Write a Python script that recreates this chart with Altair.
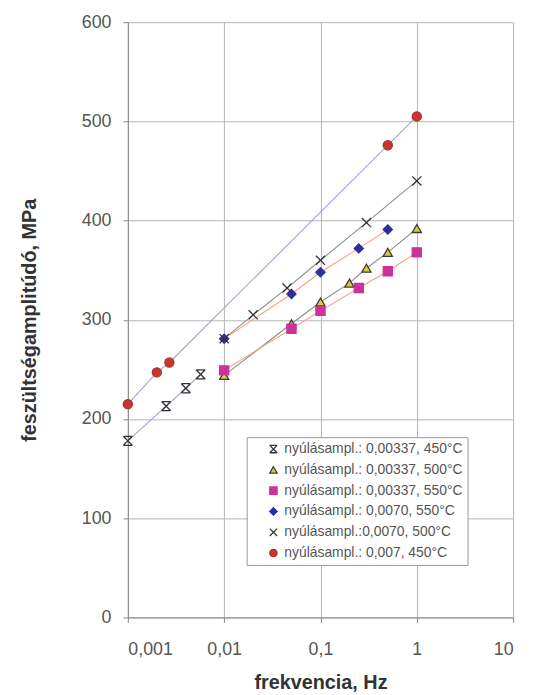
import altair as alt
import pandas as pd

series = [
    "nyúlásampl.: 0,00337, 450°C",
    "nyúlásampl.: 0,00337, 500°C",
    "nyúlásampl.: 0,00337, 550°C",
    "nyúlásampl.: 0,0070, 550°C",
    "nyúlásampl.:0,0070, 500°C",
    "nyúlásampl.: 0,007, 450°C",
]
freq = [
    [0.001, 0.0025, 0.004, 0.0057],
    [0.01, 0.05, 0.1, 0.2, 0.3, 0.5, 1],
    [0.01, 0.05, 0.1, 0.25, 0.5, 1],
    [0.01, 0.05, 0.1, 0.25, 0.5],
    [0.01, 0.02, 0.045, 0.1, 0.3, 1],
    [0.001, 0.002, 0.0027, 0.5, 1],
]
stress = [
    [178, 213, 231, 245],
    [244, 296, 318, 337, 352, 368, 392],
    [249, 291, 309, 332, 349, 368],
    [281, 326, 348, 372, 391],
    [281, 305, 332, 360, 398, 440],
    [215, 247, 257, 476, 505],
]
shapes = [
    "M-1,-1L1,1M-1,1L1,-1M-1,-1L1,-1M-1,1L1,1",
    "triangle-up",
    "square",
    "diamond",
    "M-1,-1L1,1M-1,1L1,-1",
    "circle",
]
fills = ["transparent", "#d6cf3c", "#cc3399", "#2e2ea0", "transparent", "#c33a2c"]
strokes = ["#333333", "#3a3a3a", "#cc3399", "#2e2ea0", "#333333", "#b0302a"]
line_colors = ["#a4a4d4", "#8e8e8e", "#f2a385", "#f2a385", "#8e8e8e", "#a4a4d4"]

x_ticks = [0.001, 0.01, 0.1, 1, 10]
y_ticks = [0, 100, 200, 300, 400, 500, 600]

rows = []
for i, name in enumerate(series):
    for f, s in zip(freq[i], stress[i]):
        rows.append({"f": f, "s": s, "series": name, "lc": line_colors[i], "k": i})
df = pd.DataFrame(rows)

FONT = "Liberation Sans"

x_enc = alt.X(
    "f:Q",
    scale=alt.Scale(type="log", domain=[0.001, 10]),
    axis=alt.Axis(
        values=x_ticks,
        labelExpr="replace(toString(datum.value), '.', ',')",
        title="frekvencia, Hz",
        titleY=66,
        titleBaseline="middle",
        labelPadding=18,
    ),
)
y_enc = alt.Y(
    "s:Q",
    scale=alt.Scale(domain=[0, 600]),
    axis=alt.Axis(
        values=y_ticks,
        format="d",
        title="feszültségamplitúdó, MPa",
        titleX=-99,
        titleBaseline="middle",
        labelPadding=12,
    ),
)

lines = alt.Chart(df).mark_line(strokeWidth=1.1).encode(
    x=x_enc,
    y=y_enc,
    detail="series:N",
    color=alt.Color("lc:N", scale=None),
    order="f:Q",
)

points = alt.Chart(df).mark_point(filled=True, size=85, strokeWidth=1.3, opacity=1).encode(
    x=x_enc,
    y=y_enc,
    shape=alt.Shape("series:N", scale=alt.Scale(domain=series, range=shapes), title=None),
    fill=alt.Fill("series:N", scale=alt.Scale(domain=series, range=fills), title=None),
    stroke=alt.Stroke("series:N", scale=alt.Scale(domain=series, range=strokes), title=None),
)

chart = (
    alt.layer(lines, points)
    .properties(
        width=389,
        height=601,
        autosize=alt.AutoSizeParams(type="none"),
        padding={"left": 121, "top": 11, "right": 12, "bottom": 76},
    )
    .configure_view(stroke=None)
    .configure_axis(
        gridColor="#b4b4b4",
        gridWidth=1,
        domainColor="#888888",
        tickColor="#888888",
        tickSize=5,
        labelFont=FONT,
        labelFontSize=18,
        labelColor="#555555",
        titleFont=FONT,
        titleFontSize=20,
        titleFontWeight="bold",
        titleColor="#333333",
    )
    .configure_legend(
        orient="none",
        legendX=120,
        legendY=419,
        direction="vertical",
        padding=5,
        symbolOffset=15,
        rowPadding=7,
        labelOffset=4,
        labelLimit=400,
        labelFont=FONT,
        labelFontSize=14,
        labelColor="#555555",
        strokeColor="#9a9a9a",
        fillColor="white",
        symbolSize=55,
        symbolStrokeWidth=1.3,
    )
)

chart.save("out.html", embed_options={"renderer": "svg", "actions": False})
